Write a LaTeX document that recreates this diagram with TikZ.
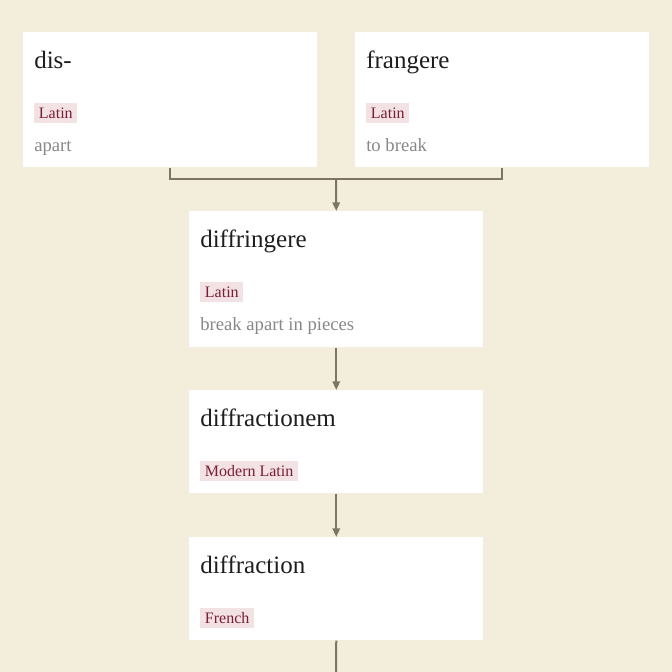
\documentclass[tikz,border=0pt]{standalone}
\usepackage{fontspec}
\setmainfont{Liberation Serif}
\usetikzlibrary{arrows.meta}
\definecolor{bg}{HTML}{F3EDDC}
\definecolor{linec}{HTML}{7D7462}
\definecolor{tagbg}{HTML}{F2E2E3}
\definecolor{tagfg}{HTML}{7A1D3A}
\definecolor{glossc}{HTML}{888888}
\definecolor{headc}{HTML}{1E1E1E}
\begin{document}
\begin{tikzpicture}[x=0.75pt,y=-0.75pt,
  card/.style={fill=white,draw=none,anchor=north west,inner sep=0pt,minimum width=220.5pt},
  headw/.style={anchor=base west,inner sep=0pt,text=headc,font=\fontsize{18.75}{22}\selectfont},
  tagbox/.style={anchor=base west,fill=tagbg,text=tagfg,inner xsep=3.5pt,inner ysep=1.25pt,text height=10pt,text depth=2.5pt,font=\fontsize{12}{14}\selectfont},
  gloss/.style={anchor=base west,inner sep=0pt,text=glossc,font=\fontsize{14}{16}\selectfont},
  conn/.style={draw=linec,line width=1.5pt},
  arr/.style={conn,-{Triangle[length=6.5pt,width=5.5pt]}}
]
\fill[bg] (0,0) rectangle (672,672);
\useasboundingbox (0,0) rectangle (672,672);

% cards
\node[card,minimum height=101.25pt] (dis) at (23,32) {};
\node[card,minimum height=101.25pt] (fran) at (355,32) {};
\node[card,minimum height=102pt] (diffr) at (189,211) {};
\node[card,minimum height=77.25pt] (diffm) at (189,390) {};
\node[card,minimum height=77.25pt] (diffn) at (189,537) {};

% dis-
\node[headw] (disH) at (34,68) {dis-};
\node[tagbox] (disT) at (34,118) {Latin};
\node[gloss] (disG) at (34,151) {apart};

% frangere
\node[headw] (franH) at (366,68) {frangere};
\node[tagbox] (franT) at (366,118) {Latin};
\node[gloss] (franG) at (366,151) {to break};

% diffringere
\node[headw] (diffrH) at (200,247) {diffringere};
\node[tagbox] (diffrT) at (200,297) {Latin};
\node[gloss] (diffrG) at (200,330) {break apart in pieces};

% diffractionem
\node[headw] (diffmH) at (200,426) {diffractionem};
\node[tagbox] (diffmT) at (200,476) {Modern Latin};

% diffraction
\node[headw] (diffnH) at (200,573) {diffraction};
\node[tagbox] (diffnT) at (200,623) {French};

% connectors
\coordinate (join) at (336,179);
\coordinate (bottomend) at (336,672);
\draw[conn] (dis.south -| 170,0) |- (join) -| (fran.south -| 502,0);
\draw[arr] (join) -- (diffr.north);
\draw[arr] (diffr.south) -- (diffm.north);
\draw[arr] (diffm.south) -- (diffn.north);
\draw[conn] (diffn.south) -- (bottomend);
\end{tikzpicture}
\end{document}
